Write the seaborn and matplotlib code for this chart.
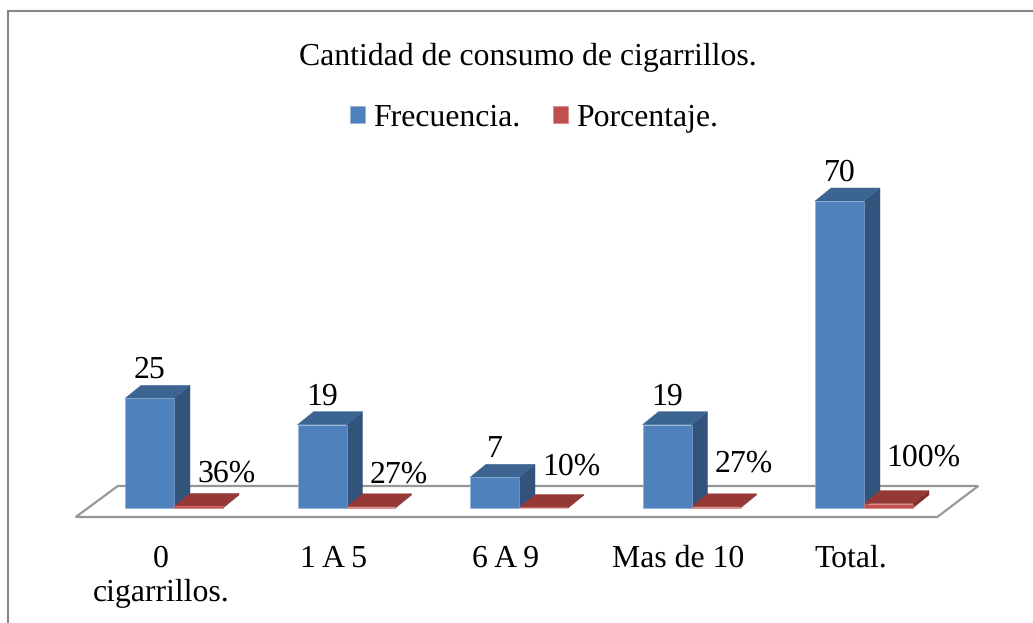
# -*- coding: utf-8 -*-
"""Cantidad de consumo de cigarrillos: fake-3D clustered bars on a floor."""
import numpy as np, pandas as pd
import matplotlib; matplotlib.use('Agg')
import matplotlib.pyplot as plt
from matplotlib.patches import Polygon, Patch
from matplotlib.lines import Line2D
from matplotlib.transforms import IdentityTransform
import seaborn as sns

categories=['0\ncigarrillos.','1 A 5','6 A 9','Mas de 10','Total.']
frecuencia=[25,19,7,19,70]
porcentaje=[0.36,0.27,0.10,0.27,1.00]
pct_labels=['36%','27%','10%','27%','100%']

W,H=1033,623
DX,DY=16,13      # depth of the 3D extrusion, pixels
BLUE=('#4F81BD','#3C6491','#32537B'); RED=('#C0504D','#953836','#7C2E2C')

sns.set_theme(style='white')
plt.rcParams['font.family']=['Liberation Serif','DejaVu Serif']
plt.rcParams['text.hinting']='no_hinting'

df=pd.DataFrame({'cat':categories*2,'valor':frecuencia+porcentaje,
                 'serie':['Frecuencia.']*5+['Porcentaje.']*5})

fig=plt.figure(figsize=(W/100,H/100),dpi=100,facecolor='white')
# x: group spacing 172.5px, y: 70 units = 307px, baseline at y=508
ax=fig.add_axes([87.75/W,(H-508)/H,862.5/W,307/H])
sns.barplot(data=df,x='cat',y='valor',hue='serie',hue_order=['Frecuencia.','Porcentaje.'],
            palette=[BLUE[0],RED[0]],width=0.568,gap=0,legend=False,ax=ax,
            saturation=1,err_kws={'linewidth':0})
ax.set_xlim(-.5,4.5); ax.set_ylim(0,70)
ax.set_xlabel(''); ax.set_ylabel(''); ax.set_yticks([])
ax.patch.set_visible(False)
sns.despine(ax=ax,left=True,bottom=True)
ax.tick_params(axis='x',length=0)
ax.set_xticks(range(5)); ax.set_xticklabels([])
fig.canvas.draw()

idt=IdentityTransform()
def px(x,y):
    return ax.transData.transform((x,y))

# floor under the bars
(x0,y0),(x1,_)=px(-.5,0),px(4.5,0)
floor=[(x0-12,y0-9),(x1-13,y0-9),(x1+28,y0+22),(x0+30,y0+22)]
ax.add_patch(Polygon(floor,closed=True,transform=idt,fc='white',ec='#969696',lw=1.6,zorder=.5,clip_on=False))

# extrude every bar: top and side faces
for cont,cols in zip(ax.containers,(BLUE,RED)):
    for b in cont:
        b.set_clip_on(False); b.set_zorder(3)
        b.set_edgecolor('#8FAFD6' if cols is BLUE else '#D97C79'); b.set_linewidth(.4)
        l,r,t,bt=b.get_x(),b.get_x()+b.get_width(),b.get_height(),0
        (lx,ty),(rx,by)=px(l,t),px(r,bt)
        top=[(lx,ty),(rx,ty),(rx+DX,ty+DY),(lx+DX,ty+DY)]
        side=[(rx,ty),(rx+DX,ty+DY),(rx+DX,by+DY),(rx,by)]
        ax.add_patch(Polygon(side,closed=True,transform=idt,fc=cols[2],ec=cols[2],lw=.3,zorder=2,clip_on=False))
        ax.add_patch(Polygon(top,closed=True,transform=idt,fc=cols[1],ec=cols[1],lw=.3,zorder=2,clip_on=False))

FS=22.9
pct_dy=[34,33,41,44,50]   # the percent labels sit at uneven heights in the source
for i,b in enumerate(ax.containers[0]):
    ax.annotate(str(frecuencia[i]),(b.get_x()+b.get_width()/2,b.get_height()),xytext=(0,28),
                textcoords='offset pixels',ha='center',va='center',fontsize=FS,color='black',annotation_clip=False)
for i,b in enumerate(ax.containers[1]):
    ax.annotate(pct_labels[i],(b.get_x(),0),xytext=(23 if i<4 else 22,pct_dy[i]),textcoords='offset pixels',
                ha='left',va='center',fontsize=FS,color='black',annotation_clip=False)
for i,c in enumerate(categories):
    ax.annotate(c,(i,0),xytext=(-13,-36),textcoords='offset pixels',ha='center',va='top',
                fontsize=FS,color='black',linespacing=1.28,annotation_clip=False)

fig.text(528/W,1-57/H,'Cantidad de consumo de cigarrillos.',ha='center',va='center',fontsize=FS,color='black')
fig.legend(handles=[Patch(fc=BLUE[0],ec='#8FAFD6',lw=.4,label='Frecuencia.'),Patch(fc=RED[0],ec='#D97C79',lw=.4,label='Porcentaje.')],
           loc='center',bbox_to_anchor=(534/W,1-118/H),ncol=2,frameon=False,fontsize=FS,labelcolor='black',
           handlelength=.47,handleheight=.47,handletextpad=.25,columnspacing=1.02,borderpad=0)

# chart frame, cut off by the picture on the right and bottom
fig.add_artist(Line2D([8/W,8/W,1.0],[0,1-11/H,1-11/H],color='#868686',lw=1.5,solid_joinstyle='miter'))

fig.savefig('out.png',dpi=100)
